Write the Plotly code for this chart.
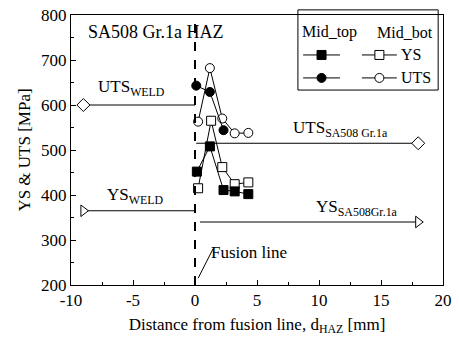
import plotly.graph_objects as go

# ---- data ----
top_ys_x = [0.15, 1.2, 2.3, 3.2, 4.3]
top_ys_y = [452, 508, 411, 408, 402]
bot_ys_x = [0.25, 1.3, 2.2, 3.2, 4.3]
bot_ys_y = [415, 565, 462, 424, 428]
top_uts_x = [0.1, 1.2, 2.3]
top_uts_y = [643, 629, 544]
bot_uts_x = [0.25, 1.2, 2.2, 3.2, 4.3]
bot_uts_y = [563, 682, 570, 537, 538]

weld_x = [-9, 0]
uts_weld = [600, 600]
ys_weld = [365, 365]
base_uts_x = [0.1, 18]
base_ys_x = [0.4, 18]
uts_base = [515, 515]
ys_base = [340, 340]

x_ticks = [-10, -5, 0, 5, 10, 15, 20]
x_tick_labels = ["-10", "-5", "0", "5", "10", "15", "20"]
y_ticks = [200, 300, 400, 500, 600, 700, 800]

FONT = "Liberation Serif"
fig = go.Figure()

def line(x, y, width=1):
    fig.add_trace(go.Scatter(x=x, y=y, mode="lines", line=dict(color="black", width=width),
                             showlegend=False, hoverinfo="skip"))

def mk(x, y, symbol, size=9, fill="black"):
    fig.add_trace(go.Scatter(x=x, y=y, mode="markers", showlegend=False, cliponaxis=False,
                             marker=dict(symbol=symbol, size=size, color=fill,
                                         line=dict(color="black", width=1))))

# reference lines
line(weld_x, uts_weld)
mk([weld_x[0]], [uts_weld[0]], "diamond", 10, "white")
line(weld_x, ys_weld)
mk([weld_x[0]], [ys_weld[0]], "triangle-right", 10, "white")
line(base_uts_x, uts_base)
mk([base_uts_x[1]], [uts_base[1]], "diamond", 10, "white")
line(base_ys_x, ys_base)
mk([base_ys_x[1]], [ys_base[1]], "triangle-right", 10, "white")

# data series
for x, y, sym, fill in [(bot_uts_x, bot_uts_y, "circle", "white"),
                        (top_uts_x, top_uts_y, "circle", "black"),
                        (bot_ys_x, bot_ys_y, "square", "white"),
                        (top_ys_x, top_ys_y, "square", "black")]:
    fig.add_trace(go.Scatter(x=x, y=y, mode="lines+markers", showlegend=False, cliponaxis=False,
                             line=dict(color="black", width=1),
                             marker=dict(symbol=sym, size=9, color=fill,
                                         line=dict(color="black", width=1))))

# custom legend samples (paper-like overlay axes)
leg = [
    ([0.624, 0.723], 0.852, "square", "black"),
    ([0.782, 0.876], 0.852, "square", "white"),
    ([0.624, 0.723], 0.767, "circle", "black"),
    ([0.782, 0.876], 0.767, "circle", "white"),
]
for xs, yy, sym, fill in leg:
    fig.add_trace(go.Scatter(x=xs, y=[yy, yy], xaxis="x2", yaxis="y2", mode="lines",
                             line=dict(color="black", width=1), showlegend=False, hoverinfo="skip"))
    fig.add_trace(go.Scatter(x=[(xs[0] + xs[1]) / 2], y=[yy], xaxis="x2", yaxis="y2", mode="markers",
                             cliponaxis=False, showlegend=False,
                             marker=dict(symbol=sym, size=9, color=fill, line=dict(color="black", width=1))))

axis_common = dict(showline=True, linecolor="black", linewidth=1, mirror=True, ticks="inside",
                   ticklen=5, tickcolor="black", showgrid=False, zeroline=False, automargin=False,
                   tickfont=dict(family=FONT, size=17, color="black"),
                   minor=dict(ticks="inside", ticklen=3, tickcolor="black", showgrid=False))

def ann(x, y, text, ref="data", xanchor="center", size=17):
    d = dict(x=x, y=y, text=text, showarrow=False, xanchor=xanchor, yanchor="middle",
             font=dict(family=FONT, size=size, color="black"))
    if ref == "paper":
        d.update(xref="paper", yref="paper")
    return d

fig.update_layout(
    template="none",
    width=459, height=355,
    margin=dict(l=71, r=16, t=15, b=70),
    paper_bgcolor="white", plot_bgcolor="white",
    font=dict(family=FONT, color="black", size=17),
    xaxis=dict(range=[-10, 20], tickmode="array", tickvals=x_ticks, ticktext=x_tick_labels,
               title=dict(text="Distance from fusion line, d<sub>HAZ</sub> [mm]",
                          font=dict(family=FONT, size=17), standoff=8),
               **{**axis_common, "minor": dict(ticks="inside", ticklen=3, tickcolor="black",
                                                showgrid=False, dtick=2.5, tick0=-10)}),
    yaxis=dict(range=[200, 800], tickmode="array", tickvals=y_ticks,
               title=dict(text="YS & UTS [MPa]", font=dict(family=FONT, size=17), standoff=6),
               **{**axis_common, "minor": dict(ticks="inside", ticklen=3, tickcolor="black",
                                                showgrid=False, dtick=50, tick0=200)}),
    xaxis2=dict(overlaying="x", range=[0, 1], visible=False, automargin=False),
    yaxis2=dict(overlaying="y", range=[0, 1], visible=False, automargin=False),
    shapes=[
        dict(type="line", xref="x", yref="paper", x0=0, x1=0, y0=0, y1=1,
             line=dict(color="black", width=2, dash="dash")),
        dict(type="line", xref="x", yref="y", x0=1.45, y0=280, x1=0.25, y1=215,
             line=dict(color="black", width=1)),
        dict(type="rect", xref="paper", yref="paper", x0=0.610, x1=0.987, y0=0.722, y1=1.019,
             line=dict(color="black", width=1), fillcolor="white", layer="below"),
    ],
    annotations=[
        ann(0.04, 0.937, "SA508 Gr.1a HAZ", "paper", "left", 18),
        ann(-5.1, 638, "UTS<sub>WELD</sub>"),
        ann(-4.8, 398, "YS<sub>WELD</sub>"),
        ann(11.7, 547, "UTS<sub>SA508 Gr.1a</sub>"),
        ann(13.1, 372, "YS<sub>SA508Gr.1a</sub>"),
        ann(4.35, 273, "Fusion line"),
        ann(0.696, 0.937, "Mid_top", "paper", "center", 16),
        ann(0.898, 0.937, "Mid_bot", "paper", "center", 16),
        ann(0.882, 0.852, "YS", "paper", "left", 16),
        ann(0.882, 0.767, "UTS", "paper", "left", 16),
    ],
)

fig.write_html("out.html")
